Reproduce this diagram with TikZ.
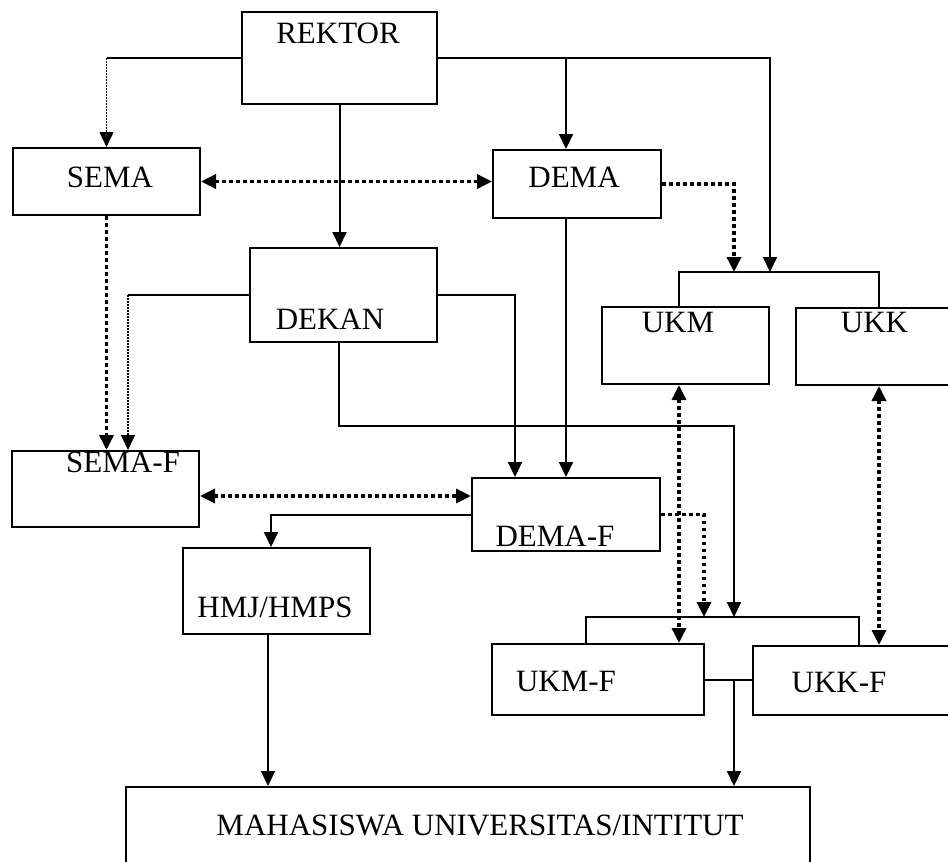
\documentclass[tikz,border=0pt]{standalone}
\usepackage{fontspec}
\setmainfont{Liberation Serif}
\usetikzlibrary{arrows.meta}

\tikzset{
	box/.style={draw, line width=2pt, inner sep=0pt},
	lbl/.style={anchor=base, inner sep=0pt, font=\fontsize{31}{37}\selectfont},
	ln/.style={line width=2pt},
	dots/.style={line width=3.5pt, dash pattern=on 3.5pt off 3.5pt},
	fine dots/.style={line width=1.5pt, dash pattern=on 1.5pt off 1.5pt},
	tipend/.style={-{Triangle[width=14pt,length=15pt]}},
	tipboth/.style={{Triangle[width=14pt,length=15pt]}-{Triangle[width=14pt,length=15pt]}},
}

\begin{document}
\begin{tikzpicture}[x=1pt, y=-1pt]
		\useasboundingbox (0,0) rectangle (948,862);
		\clip (0,0) rectangle (948,862);
		% boxes
		\node[box, minimum width=195, minimum height=92] (rektor) at (339.5,58) {};
		\node[box, minimum width=187, minimum height=67] (sema) at (106.5,181.5) {};
		\node[box, minimum width=168, minimum height=68] (dema) at (577,184) {};
		\node[box, minimum width=187, minimum height=94] (dekan) at (343.5,295) {};
		\node[box, minimum width=167, minimum height=77] (ukm) at (685.5,345.5) {};
		\node[box, minimum width=166, minimum height=77] (ukk) at (879,346.5) {};
		\node[box, minimum width=187, minimum height=76] (semaf) at (105.5,489) {};
		\node[box, minimum width=188, minimum height=73] (demaf) at (566,514.5) {};
		\node[box, minimum width=187, minimum height=86] (hmj) at (276.5,591) {};
		\node[box, minimum width=212, minimum height=71] (ukmf) at (598,679.5) {};
		\node[box, minimum width=210, minimum height=69] (ukkf) at (858,680.5) {};
		\node[box, minimum width=684, minimum height=113] (mhs) at (468,843.5) {};
		% texts
		\node[lbl] (rektor-t) at (338,43) {REKTOR};
		\node[lbl] (sema-t) at (110,187) {SEMA};
		\node[lbl] (dema-t) at (574,187) {DEMA};
		\node[lbl] (dekan-t) at (330,329) {DEKAN};
		\node[lbl] (ukm-t) at (678,332) {UKM};
		\node[lbl] (ukk-t) at (874.5,332) {UKK};
		\node[lbl] (semaf-t) at (123,472) {SEMA-F};
		\node[lbl] (demaf-t) at (555,546) {DEMA-F};
		\node[lbl] (hmj-t) at (275,617) {HMJ/HMPS};
		\node[lbl] (ukmf-t) at (566,691) {UKM-F};
		\node[lbl] (ukkf-t) at (839,692) {UKK-F};
		\node[lbl] (mhs-t) at (480,835) {MAHASISWA UNIVERSITAS/INTITUT};
		% junctions
		\coordinate (kbarA) at (734,272);
		\coordinate (kbarB) at (770,272);
		\coordinate (fbarA) at (704,617);
		\coordinate (fbarB) at (734,617);
		\coordinate (dkturn) at (734,426);
		\coordinate (sfB) at ([xshift=22.5]semaf.north);
		\coordinate (sfE) at ([yshift=-7]semaf.east);
		\coordinate (ukmS) at ([xshift=-6.5]ukm.south);
		\coordinate (hmjS) at ([xshift=-8.5]hmj.south);
		\coordinate (ukjoin) at (ukmf.east -| fbarB);
		% rektor
		\draw[ln] (rektor.west) -- (rektor.west -| sema.north);
		\draw[fine dots, tipend] (rektor.west -| sema.north) -- (sema.north);
		\draw[ln, tipend] (rektor.east) -| (kbarB);
		\draw[ln, tipend] (rektor.east -| demaf.north) -- (dema.north -| demaf.north);
		\draw[ln, tipend] (rektor.south) -- (dekan.north -| rektor.south);
		\draw[dots, tipboth] (sema.east) -- (sema.east -| dema.west);
		\draw[dots, tipend] (dema.east) -| (kbarA);
		\draw[ln] ([xshift=-6.5]ukm.north) |- (kbarB) -| (ukk.north);
		% dekan
		\draw[dots, tipend] (sema.south) -- (sema.south |- semaf.north);
		\draw[ln] (dekan.west) -- (dekan.west -| sfB);
		\draw[fine dots, tipend] (dekan.west -| sfB) -- (sfB);
		\draw[ln, tipend] (dekan.east) -| ([xshift=-51]demaf.north);
		\draw[ln, tipend] ([xshift=-4.5]dekan.south) |- (dkturn) -- (fbarB);
		\draw[ln, tipend] (dema.south -| demaf.north) -- (demaf.north);
		% fakultas
		\draw[dots, tipboth] (sfE) -- (sfE -| demaf.west);
		\draw[ln, tipend] (demaf.west) -| ([xshift=-5.5]hmj.north);
		\draw[dots, tipend] (demaf.east) -| (fbarA);
		\draw[dots, tipboth] (ukmS) -- (ukmS |- ukmf.north);
		\draw[dots, tipboth] (ukk.south) -- (ukk.south |- ukkf.north);
		\draw[ln] ([xshift=-12]ukmf.north) |- (fbarB) -| ([xshift=1]ukkf.north);
		\draw[ln] (ukmf.east) -- (ukmf.east -| ukkf.west);
		\draw[ln, tipend] (ukjoin) -- (ukjoin |- mhs.north);
		\draw[ln, tipend] (hmjS) -- (hmjS |- mhs.north);
	\end{tikzpicture}
\end{document}
